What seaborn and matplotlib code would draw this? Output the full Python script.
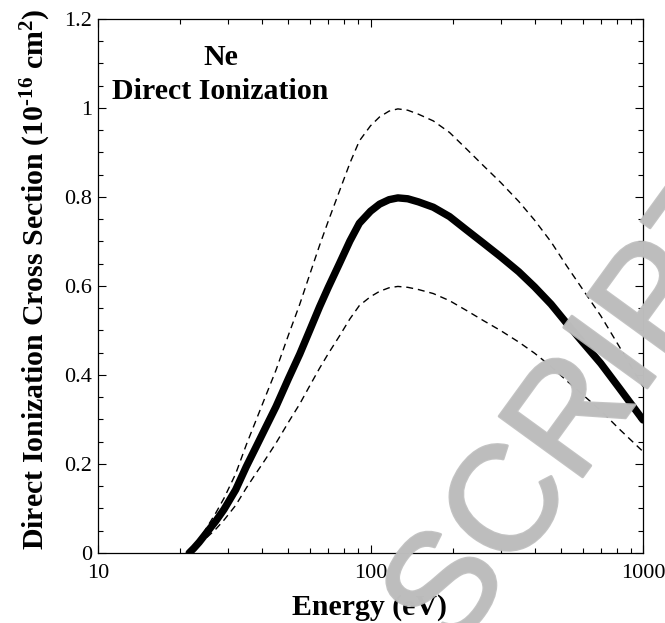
import numpy as np
import pandas as pd
import matplotlib
matplotlib.use("Agg")
import matplotlib.pyplot as plt
import matplotlib.ticker as mticker
import matplotlib.patheffects as pe
import seaborn as sns

# data (energy in eV, cross section in 1e-16 cm^2)
energy = [21.6, 22.5, 23.5, 25, 27, 29, 32, 35, 38, 41, 45, 50, 55, 60, 65,
          70, 77, 84, 91, 100, 108, 117, 126, 137, 150, 170, 195, 225, 260,
          300, 350, 400, 460, 525, 600, 700, 820, 1000]
sigma = [0, 0.011, 0.024, 0.045, 0.071, 0.098, 0.142, 0.194, 0.238, 0.279,
         0.329, 0.392, 0.447, 0.502, 0.553, 0.597, 0.651, 0.701, 0.741,
         0.768, 0.784, 0.794, 0.798, 0.796, 0.789, 0.777, 0.756, 0.726,
         0.696, 0.666, 0.632, 0.598, 0.559, 0.516, 0.474, 0.426, 0.37, 0.299]
sigma_upper = [0, 0.014, 0.03, 0.056, 0.089, 0.123, 0.178, 0.243, 0.298,
               0.349, 0.411, 0.49, 0.559, 0.628, 0.691, 0.746, 0.814, 0.876,
               0.926, 0.96, 0.98, 0.993, 0.998, 0.995, 0.986, 0.971, 0.945,
               0.908, 0.87, 0.833, 0.79, 0.748, 0.699, 0.645, 0.593, 0.533,
               0.463, 0.374]
sigma_lower = [0, 0.008, 0.018, 0.034, 0.053, 0.074, 0.107, 0.146, 0.179,
               0.209, 0.247, 0.294, 0.335, 0.377, 0.415, 0.448, 0.488, 0.526,
               0.556, 0.576, 0.588, 0.596, 0.599, 0.597, 0.592, 0.583, 0.567,
               0.545, 0.522, 0.5, 0.474, 0.449, 0.419, 0.387, 0.356, 0.32,
               0.278, 0.228]

df = pd.DataFrame({"energy": energy, "sigma": sigma,
                   "upper": sigma_upper, "lower": sigma_lower})

sns.set_theme(style="ticks")
plt.rcParams.update({
    "font.family": ["Liberation Serif", "DejaVu Serif"],
    "mathtext.fontset": "custom",
    "mathtext.rm": "Liberation Serif:bold",
    "mathtext.bf": "Liberation Serif:bold",
    "mathtext.it": "Liberation Serif:bold",
    "text.color": "black",
    "axes.labelcolor": "black",
    "axes.edgecolor": "black",
    "xtick.color": "black",
    "ytick.color": "black",
    "axes.linewidth": 0.9,
    "xtick.direction": "in",
    "ytick.direction": "in",
    "xtick.top": True,
    "ytick.right": True,
})

fig = plt.figure(figsize=(6.65, 6.23), dpi=100)
ax = fig.add_axes([0.1474, 0.1124, 0.8195, 0.8571])

sns.lineplot(data=df, x="energy", y="upper", ax=ax, color="black",
             linewidth=1.0, sort=False)
sns.lineplot(data=df, x="energy", y="lower", ax=ax, color="black",
             linewidth=1.0, sort=False)
for ln in ax.lines:
    ln.set_dashes([5, 3.5])
sns.lineplot(data=df, x="energy", y="sigma", ax=ax, color="black",
             linewidth=5.3, sort=False)
ax.lines[-1].set_solid_capstyle("round")
ax.lines[-1].set_solid_joinstyle("round")

ax.set_xscale("log")
ax.set_xlim(10, 1000)
ax.set_ylim(0, 1.2)
ax.yaxis.set_major_locator(mticker.MultipleLocator(0.2))
ax.yaxis.set_minor_locator(mticker.MultipleLocator(0.05))
ax.yaxis.set_major_formatter(mticker.FuncFormatter(lambda v, _: f"{v:g}"))
ax.xaxis.set_major_formatter(mticker.FuncFormatter(lambda v, _: f"{v:g}"))
ax.tick_params(which="major", length=6, width=0.8, labelsize=16)
ax.tick_params(which="minor", length=3.5, width=0.8)
ax.tick_params(axis="x", which="major", pad=8)
ax.tick_params(axis="y", which="major", pad=4)

ax.set_xlabel("")
ax.set_ylabel("")
fig.text(0.556, 0.025, "Energy (eV)", ha="center", va="center",
         fontsize=21.5, fontweight="bold")
fig.text(0.054, 0.552, "Direct Ionization Cross Section (10$^{\u201016}$ cm$^{2}$)",
         ha="center", va="center", rotation=90, fontsize=21.5,
         fontweight="bold")

ax.text(0.225, 0.927, "Ne", transform=ax.transAxes, ha="center",
        va="center", fontsize=21.5, fontweight="bold")
ax.text(0.225, 0.865, "Direct Ionization", transform=ax.transAxes,
        ha="center", va="center", fontsize=21.5, fontweight="bold")

# watermark
fig.text(583 / 665, 1 - 410 / 623, "SCRIPT", ha="center", va="center",
         rotation=54, fontsize=108, family="Liberation Sans",
         color="#bdbdbd", alpha=0.9, zorder=10,
         path_effects=[pe.withStroke(linewidth=2, foreground="#bdbdbd")])

fig.savefig("out.png", dpi=100)
